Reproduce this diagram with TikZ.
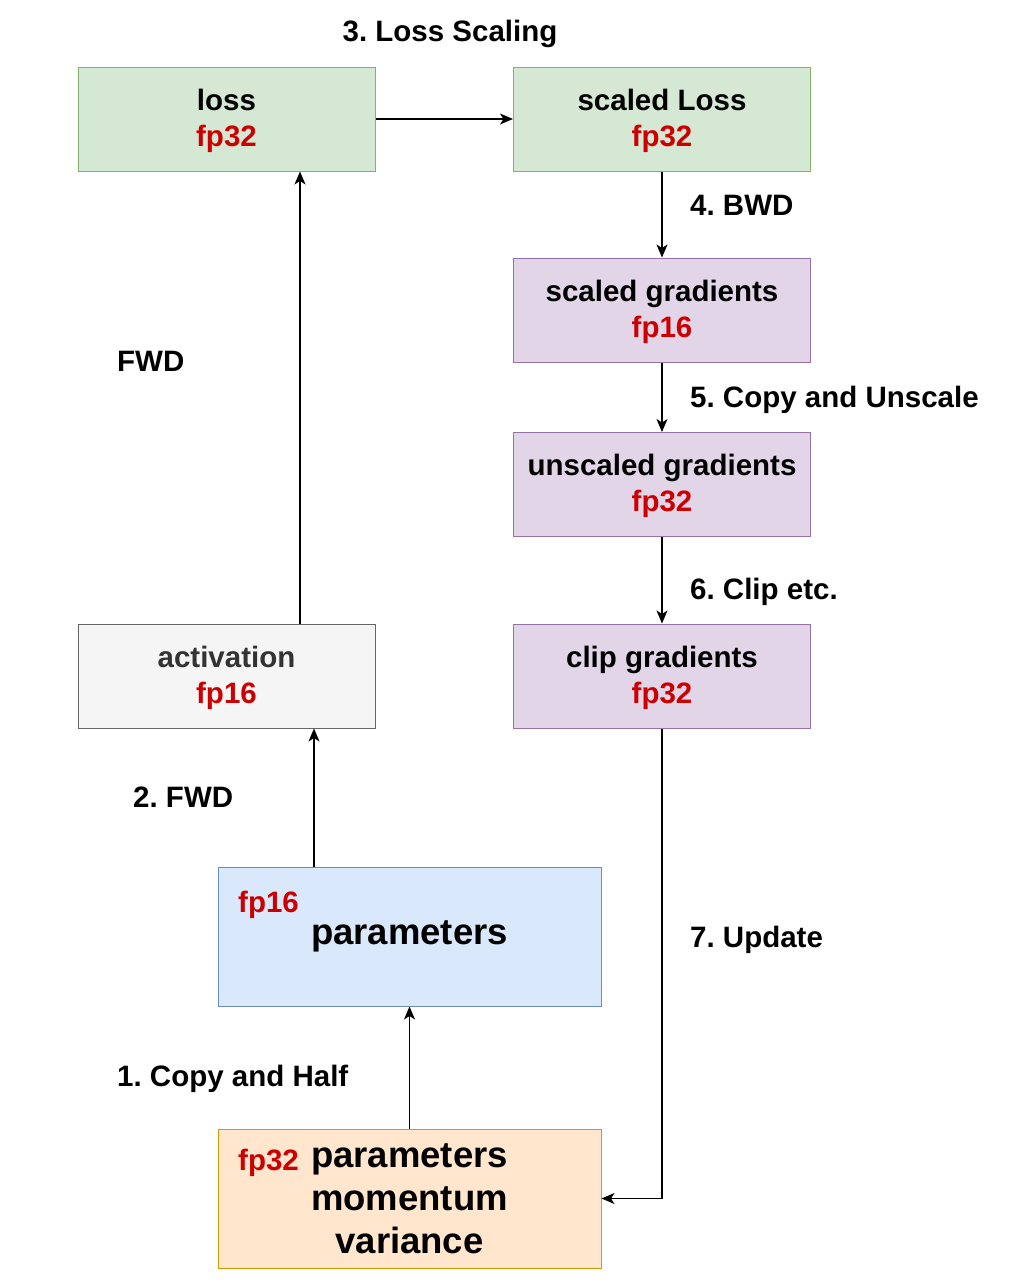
\documentclass[tikz,border=0pt]{standalone}
\usepackage{fontspec}
\setmainfont{Liberation Sans}
\usetikzlibrary{arrows.meta}
\definecolor{gfill}{HTML}{D5E8D4}\definecolor{gdraw}{HTML}{82B366}
\definecolor{pfill}{HTML}{E1D5E7}\definecolor{pdraw}{HTML}{9673A6}
\definecolor{afill}{HTML}{F5F5F5}\definecolor{adraw}{HTML}{666666}\definecolor{atext}{HTML}{333333}
\definecolor{bfill}{HTML}{DAE8FC}\definecolor{bdraw}{HTML}{6C8EBF}
\definecolor{ofill}{HTML}{FFE6CC}\definecolor{odraw}{HTML}{D79B00}
\definecolor{fpred}{HTML}{CC0000}
\newcommand{\fpt}[1]{\textcolor{fpred}{#1}}
\frenchspacing
\begin{document}
\begin{tikzpicture}[x=1pt,y=-1pt,
  box/.style={draw, line width=1pt, inner sep=0pt, align=center,
    font=\bfseries\fontsize{29.5}{36}\selectfont},
  smallbox/.style={box, minimum width=297pt, minimum height=104pt},
  bigbox/.style={box, minimum width=383pt, minimum height=139pt},
  lbl/.style={anchor=base west, inner sep=0pt, font=\bfseries\fontsize{29.5}{34}\selectfont},
  arr/.style={line width=1.2pt, -{Stealth[length=13pt,width=11pt,inset=3.5pt]}}]
\useasboundingbox (0,0) rectangle (1018,1282);
\fill[white] (0,0) rectangle (1018,1282);
% boxes
\node[smallbox, fill=gfill, draw=gdraw] (loss) at (226.5,119) {\rule{0pt}{25pt}loss\\\fpt{fp32}};
\node[smallbox, fill=gfill, draw=gdraw] (sloss) at (662,119) {\rule{0pt}{25pt}scaled Loss\\\fpt{fp32}};
\node[smallbox, fill=pfill, draw=pdraw] (sgrad) at (662,310) {\rule{0pt}{25pt}scaled gradients\\\fpt{fp16}};
\node[smallbox, fill=pfill, draw=pdraw] (ugrad) at (662,484.5) {\rule{0pt}{25pt}unscaled gradients\\\fpt{fp32}};
\node[smallbox, fill=pfill, draw=pdraw] (clip) at (662,676) {\rule{0pt}{25pt}clip gradients\\\fpt{fp32}};
\node[smallbox, fill=afill, draw=adraw, text=atext] (act) at (226.5,676) {\rule{0pt}{25pt}activation\\\fpt{fp16}};
\node[bigbox, fill=bfill, draw=bdraw, font=\bfseries\fontsize{36.5}{43}\selectfont] (p16) at (409.5,936.5) {parameters};
\node[bigbox, fill=ofill, draw=odraw, font=\bfseries\fontsize{36.5}{43}\selectfont] (p32) at (409.5,1198.5) {parameters\\momentum\\variance};
\node[lbl, text=fpred] (p16t) at (238,912) {fp16};
\node[lbl, text=fpred] (p32t) at (238,1170) {fp32};
% connectors
\draw[arr] (loss.east) -- (sloss.west);
\draw[arr] (sloss.south) -- (sgrad.north);
\draw[arr] (sgrad.south) -- (ugrad.north);
\draw[arr] (ugrad.south) -- (clip.north);
\draw[arr] (clip.south) |- (p32.east);
\draw[arr] ([xshift=73.5pt]act.north) -- ([xshift=73.5pt]loss.south);
\draw[arr] ([xshift=-95.5pt]p16.north) -- ([xshift=-95.5pt]p16.north |- act.south);
\draw[arr] (p32.north) -- (p16.south);
% labels
\node[lbl, anchor=base] (l3) at (450,41) {3. Loss Scaling};
\node[lbl] (l4) at (690,215) {4. BWD};
\node[lbl] (lf) at (117,371) {FWD};
\node[lbl] (l5) at (690,407) {5. Copy and Unscale};
\node[lbl] (l6) at (690,599) {6. Clip etc.};
\node[lbl] (l2) at (133,807) {2. FWD};
\node[lbl] (l7) at (690,947) {7. Update};
\node[lbl] (l1) at (117,1086) {1. Copy and Half};
\end{tikzpicture}
\end{document}
